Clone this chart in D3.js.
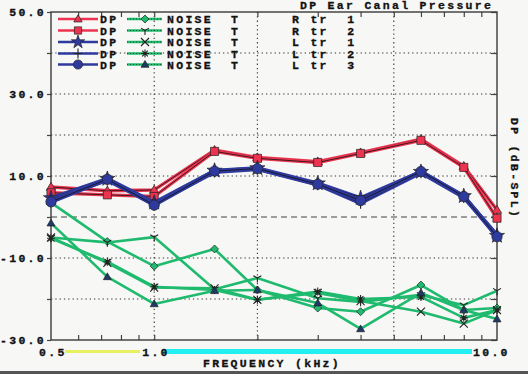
<!DOCTYPE html>
<meta charset="utf-8">
<script src="https://d3js.org/d3.v7.min.js"></script>
<style>
  body { margin: 0; background: #f7f7f6; }
  text { font-family: "Liberation Mono", "DejaVu Sans Mono", monospace; font-weight: bold; font-size: 11.5px; letter-spacing: 2.3px; fill: #111; stroke: #111; stroke-width: 0.3px; white-space: pre; }
</style>
<div id="chart"></div>
<script>

// frequencies (kHz)
var freqs = [0.5, 0.73, 1, 1.5, 2, 3, 4, 6, 8, 10];

// DP levels (dB SPL)
var dpRtr1 = [7.3, 6.4, 6.6, 16.3, 14.5, 13.5, 15.7, 19.0, 12.4, 1.7];
var dpRtr2 = [5.9, 5.4, 5.0, 16.0, 14.3, 13.3, 15.5, 18.7, 12.1, -0.3];
var dpLtr1 = [4.6, 9.3, 3.5, 11.3, 11.9, 8.2, 4.6, 11.0, 5.1, -4.6];
var dpLtr2 = [4.2, 9.0, 3.2, 11.0, 11.7, 7.9, 3.4, 10.8, 4.8, -4.4];
var dpLtr3 = [3.7, 9.2, 2.9, 11.2, 11.8, 8.0, 4.0, 11.1, 5.0, -4.8];

// noise floor (dB SPL)
var nsRtr1 = [3.5, -6.0, -12.0, -7.8, -17.8, -22.2, -23.1, -16.6, -22.7, -22.2];
var nsRtr2 = [-5.0, -6.2, -4.9, -17.6, -14.9, -19.8, -20.7, -19.0, -21.5, -18.0];
var nsLtr1 = [-5.0, -11.2, -17.2, -17.4, -20.2, -18.5, -20.5, -23.1, -26.0, -22.7];
var nsLtr2 = [-5.2, -10.9, -17.0, -17.8, -20.2, -18.2, -20.0, -19.5, -24.6, -22.7];
var nsLtr3 = [-1.5, -14.6, -21.2, -18.0, -17.8, -21.0, -27.3, -18.5, -22.7, -24.9];

var earLabels = ["R tr  1", "R tr  2", "L tr  1", "L tr  2", "L tr  3"];
var yTickLabels = [50, 30, 10, -10, -30];
var xTickLabels = [0.5, 1, 10];
var gridX = [1, 2, 5];
var gridY = [40, 30, 20, 10, -10, -20];
var minorX = [0.6, 0.7, 0.8, 0.9, 1, 2, 3, 4, 5, 6, 7, 8, 9];

var W = 528, H = 374;
var pLeft = 51, pRight = 497, pTop = 12, pBottom = 340;

var red = "#ec3450", blue = "#2f3a9e", green = "#1fba6e";

var svg = d3.select("#chart").append("svg")
    .attr("width", W).attr("height", H);

var x = d3.scaleLog().domain([0.5, 10]).range([pLeft, pRight]);
var y = d3.scaleLinear().domain([-30, 50]).range([pBottom, pTop]);

// scan artifacts along the x axis labels
svg.append("rect").attr("x", 65).attr("y", 350).attr("width", 75).attr("height", 3).attr("fill", "#e8f060");
svg.append("rect").attr("x", 163).attr("y", 349).attr("width", 309).attr("height", 5).attr("fill", "#22f0f0");
svg.append("rect").attr("x", 0).attr("y", 371).attr("width", W).attr("height", 3).attr("fill", "#555");

// grid
svg.selectAll(".gx").data(gridX).enter().append("line")
    .attr("x1", d => x(d)).attr("x2", d => x(d))
    .attr("y1", pTop).attr("y2", pBottom)
    .attr("stroke", "#333").attr("stroke-width", 1.1).attr("stroke-dasharray", "1.3 3");
svg.selectAll(".gy").data(gridY).enter().append("line")
    .attr("x1", pLeft).attr("x2", pRight)
    .attr("y1", d => y(d)).attr("y2", d => y(d))
    .attr("stroke", "#333").attr("stroke-width", 1.1).attr("stroke-dasharray", "1.3 3");
svg.append("line")
    .attr("x1", pLeft).attr("x2", pRight).attr("y1", y(0)).attr("y2", y(0))
    .attr("stroke", "#444").attr("stroke-width", 1.2).attr("stroke-dasharray", "6 4");

// axes ticks
svg.append("g").attr("transform", "translate(0," + pBottom + ")")
    .call(d3.axisTop(x).tickValues(minorX).tickSize(5).tickFormat(""))
    .call(g => g.select(".domain").remove());
svg.append("g").attr("transform", "translate(0," + pTop + ")")
    .call(d3.axisBottom(x).tickValues(minorX).tickSize(5).tickFormat(""))
    .call(g => g.select(".domain").remove());
svg.append("g").attr("transform", "translate(" + pLeft + ",0)")
    .call(d3.axisLeft(y).ticks(8).tickSize(4).tickFormat(""))
    .call(g => g.select(".domain").remove());
svg.append("g").attr("transform", "translate(" + pRight + ",0)")
    .call(d3.axisLeft(y).ticks(8).tickSize(6).tickFormat(""))
    .call(g => g.select(".domain").remove());
svg.selectAll(".tick line").attr("stroke", "#444").attr("stroke-width", 1.2);

// frame
svg.append("rect")
    .attr("x", pLeft).attr("y", pTop).attr("width", pRight - pLeft).attr("height", pBottom - pTop)
    .attr("fill", "none").attr("stroke", "#3a3a3a").attr("stroke-width", 1.4);

// tick labels
svg.selectAll(".yl").data(yTickLabels).enter().append("text")
    .attr("x", 46).attr("y", d => y(d)).attr("dy", "0.35em")
    .attr("text-anchor", "end").text(d => d.toFixed(1));
svg.selectAll(".xl").data(xTickLabels).enter().append("text")
    .attr("x", d => x(d) + (d === 10 ? -24 : -12)).attr("y", 356)
    .text(d => d.toFixed(1));

svg.append("text").attr("x", 300).attr("y", 9).text("DP Ear Canal Pressure");
svg.append("text").attr("x", 203).attr("y", 367).text("FREQUENCY (kHz)");
svg.append("text").attr("transform", "translate(511,118) rotate(90)").text("DP (dB-SPL)");

// marker shapes
function markerPath(kind, s) {
  switch (kind) {
    case "triangle": return "M0," + (-s) + "L" + s + "," + (s * 0.7) + "L" + (-s) + "," + (s * 0.7) + "Z";
    case "square": return d3.symbol(d3.symbolSquare, s * s * 3)();
    case "star": return d3.symbol(d3.symbolStar, s * s * 3.2)();
    case "plus": return "M0," + (-s * 1.2) + "V" + (s * 1.2) + "M" + (-s) + ",0H" + s;
    case "circle": return d3.symbol(d3.symbolCircle, s * s * 3.8)();
    case "diamond": return "M0," + (-s) + "L" + s + ",0L0," + s + "L" + (-s) + ",0Z";
    case "ytick": return "M0,0V" + (s * 1.1) + "M0,0L" + (-s) + "," + (-s * 0.6) + "M0,0L" + s + "," + (-s * 0.6);
    case "times": return "M" + (-s) + "," + (-s) + "L" + s + "," + s + "M" + s + "," + (-s) + "L" + (-s) + "," + s;
    case "asterisk": return "M0," + (-s) + "V" + s + "M" + (-s) + ",0H" + s +
        "M" + (-s * 0.7) + "," + (-s * 0.7) + "L" + (s * 0.7) + "," + (s * 0.7) +
        "M" + (s * 0.7) + "," + (-s * 0.7) + "L" + (-s * 0.7) + "," + (s * 0.7);
  }
}
var filled = { triangle: 1, square: 1, star: 1, circle: 1, diamond: 1 };

var dpSeries = [
  { values: dpRtr1, color: red, marker: "triangle", mfill: red },
  { values: dpRtr2, color: red, marker: "square", mfill: red },
  { values: dpLtr1, color: blue, marker: "star", mfill: blue },
  { values: dpLtr2, color: blue, marker: "plus", mfill: blue },
  { values: dpLtr3, color: blue, marker: "circle", mfill: blue }
];
var nsSeries = [
  { values: nsRtr1, color: green, marker: "diamond", mfill: green },
  { values: nsRtr2, color: green, marker: "ytick", mfill: green },
  { values: nsLtr1, color: green, marker: "times", mfill: green },
  { values: nsLtr2, color: green, marker: "asterisk", mfill: green },
  { values: nsLtr3, color: green, marker: "triangle", mfill: "#1d3a6a" }
];

var line = d3.line().x(d => x(d.f)).y(d => y(d.v));

function drawMarker(g, kind, fill, s) {
  var p = g.append("path").attr("d", markerPath(kind, s));
  if (filled[kind]) p.attr("fill", fill).attr("stroke", "#222").attr("stroke-width", 0.7);
  else p.attr("fill", "none").attr("stroke", "#222").attr("stroke-width", 1.1);
}

function drawSeries(s, isDP) {
  var pts = freqs.map((f, i) => ({ f: f, v: s.values[i] }));
  svg.append("path").datum(pts).attr("d", line)
      .attr("fill", "none").attr("stroke", s.color)
      .attr("stroke-width", isDP ? (s.color === blue ? 4 : 3.4) : 2.6).attr("stroke-linejoin", "round");
  if (isDP) {
    svg.append("path").datum(pts).attr("d", line)
        .attr("fill", "none").attr("stroke", "#111").attr("stroke-width", 0.8);
  }
  pts.forEach(function(d) {
    var g = svg.append("g").attr("transform", "translate(" + x(d.f) + "," + y(d.v) + ")");
    drawMarker(g, s.marker, s.mfill, isDP ? 4.7 : 4);
  });
}

nsSeries.forEach(s => drawSeries(s, false));
dpSeries.forEach(s => drawSeries(s, true));

// legend
var rowY = [19, 30.5, 42, 53.5, 64.5];
var leg = svg.append("g").attr("class", "legend");
dpSeries.forEach(function(s, i) {
  var yy = rowY[i];
  leg.append("line").attr("x1", 58).attr("x2", 98).attr("y1", yy).attr("y2", yy)
      .attr("stroke", s.color).attr("stroke-width", 2.6);
  var g = leg.append("g").attr("transform", "translate(78," + yy + ")");
  drawMarker(g, s.marker, s.mfill, 4.2);
  leg.append("text").attr("x", 100).attr("y", yy).attr("dy", "0.35em").text("DP");

  var n = nsSeries[i];
  leg.append("line").attr("x1", 127).attr("x2", 162).attr("y1", yy).attr("y2", yy)
      .attr("stroke", n.color).attr("stroke-width", 2.6);
  leg.append("line").attr("x1", 127).attr("x2", 162).attr("y1", yy).attr("y2", yy)
      .attr("stroke", "#114422").attr("stroke-width", 0.8).attr("stroke-dasharray", "1 2");
  var g2 = leg.append("g").attr("transform", "translate(145," + yy + ")");
  drawMarker(g2, n.marker, n.mfill, 4);
  leg.append("text").attr("x", 167).attr("y", yy).attr("dy", "0.35em").text("NOISE");
  leg.append("text").attr("x", 231).attr("y", yy).attr("dy", "0.35em").text("T");
  leg.append("text").attr("x", 292).attr("y", yy).attr("dy", "0.35em").text(earLabels[i]);
});

</script>
